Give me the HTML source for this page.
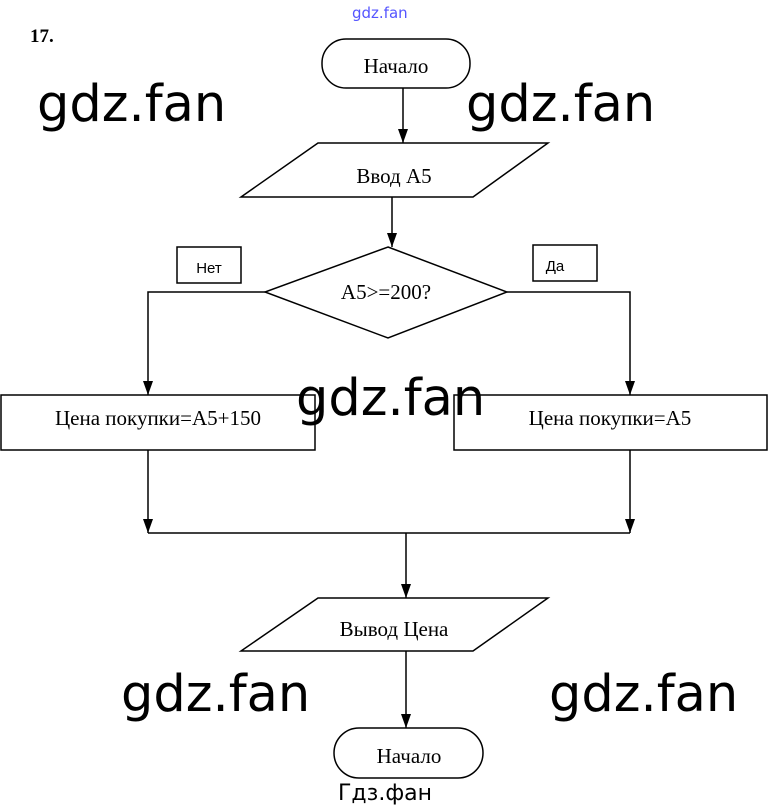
<!DOCTYPE html>
<html><head><meta charset="utf-8"><style>
body{margin:0;background:#fff;}
svg{display:block}
.t{font-family:"Liberation Serif",serif;font-size:21px;fill:#000}
.w{font-family:"DejaVu Sans","Liberation Sans",sans-serif;font-size:51px;fill:#000}
</style></head><body>
<svg width="768" height="811" viewBox="0 0 768 811">
<defs><marker id="a" markerWidth="14" markerHeight="10" refX="14" refY="5" orient="auto" markerUnits="userSpaceOnUse"><path d="M0,0 L14,5 L0,10 Z" fill="#000"/></marker></defs>
<g stroke="#000" stroke-width="1.5" fill="none">
<rect x="322" y="39" width="148" height="49" rx="24"/>
<line x1="403" y1="88" x2="403" y2="143" marker-end="url(#a)"/>
<polygon points="318,143 548,143 473,197 241,197"/>
<line x1="392" y1="197" x2="392" y2="247" marker-end="url(#a)"/>
<polygon points="388,247 507,292 388,338 265,292"/>
<rect x="177" y="247" width="64" height="36"/>
<rect x="533" y="245" width="64" height="36"/>
<polyline points="265,292 148,292 148,395" marker-end="url(#a)"/>
<polyline points="507,292 630,292 630,395" marker-end="url(#a)"/>
<rect x="1" y="395" width="314" height="55"/>
<rect x="454" y="395" width="313" height="55"/>
<line x1="148" y1="450" x2="148" y2="533" marker-end="url(#a)"/>
<line x1="630" y1="450" x2="630" y2="533" marker-end="url(#a)"/>
<line x1="148" y1="533" x2="630" y2="533"/>
<line x1="406" y1="533" x2="406" y2="598" marker-end="url(#a)"/>
<polygon points="318,598 548,598 473,651 241,651"/>
<line x1="406" y1="651" x2="406" y2="728" marker-end="url(#a)"/>
<rect x="334" y="728" width="149" height="50" rx="25"/>
</g>
<text x="30" y="42" class="t" style="font-weight:bold;font-size:19px">17.</text>
<text x="352" y="18" style="font-family:'DejaVu Sans',sans-serif;font-size:15px;fill:#55f">gdz.fan</text>
<text x="396" y="73" class="t" text-anchor="middle">Начало</text>
<text x="394" y="183" class="t" text-anchor="middle">Ввод A5</text>
<text x="386" y="299" class="t" text-anchor="middle">A5&gt;=200?</text>
<text x="209" y="273" style="font-family:'Liberation Sans',sans-serif;font-size:15px" text-anchor="middle">Нет</text>
<text x="555" y="271" style="font-family:'Liberation Sans',sans-serif;font-size:15px" text-anchor="middle">Да</text>
<text x="158" y="425" class="t" text-anchor="middle">Цена покупки=A5+150</text>
<text x="610" y="425" class="t" text-anchor="middle">Цена покупки=A5</text>
<text x="394" y="636" class="t" text-anchor="middle">Вывод Цена</text>
<text x="409" y="763" class="t" text-anchor="middle">Начало</text>
<text x="385" y="800" style="font-family:'DejaVu Sans',sans-serif;font-size:22px" text-anchor="middle">Гдз.фан</text>
<text x="37" y="121" class="w">gdz.fan</text>
<text x="466" y="121" class="w">gdz.fan</text>
<text x="296" y="415" class="w">gdz.fan</text>
<text x="121" y="711" class="w">gdz.fan</text>
<text x="549" y="711" class="w">gdz.fan</text>
</svg>
</body></html>
